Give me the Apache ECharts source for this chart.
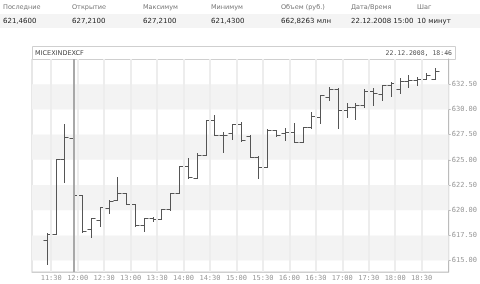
<!DOCTYPE html>
<html><head><meta charset="utf-8">
<script src="https://cdn.jsdelivr.net/npm/echarts@6/dist/echarts.min.js"></script>
<style>
html,body{margin:0;padding:0;background:#fff;}
#wrap{position:relative;width:480px;height:284px;overflow:hidden;}
#chart{position:absolute;left:0;top:0;width:480px;height:284px;}
.hrow{position:absolute;left:0;width:480px;font-family:"DejaVu Sans",Verdana,sans-serif;}
.hrow span{position:absolute;white-space:nowrap;}
#r1{top:1px;height:12px;font-size:6.5px;color:#777;}
#r2{top:14px;height:14px;font-size:7px;color:#222;background:#f4f4f4;}
#r1 span{top:2px;} #r2 span{top:3px;}
</style></head>
<body><div id="wrap"><div id="chart"></div>
<div class="hrow" id="r1"></div><div class="hrow" id="r2"></div></div>
<script>
// ---- data ----
const headerLabels = ['Последние','Открытие','Максимум','Минимум','Объем (руб.)','Дата/Время','Шаг'];
const headerValues = ['621,4600','627,2100','627,2100','621,4300','662,8263 млн','22.12.2008 15:00','10 минут'];
const chartTitle = 'MICEXINDEXCF';
const chartStamp = '22.12.2008, 18:46';
const times = ['11:20','11:30','11:40','11:50','12:00','12:10','12:20','12:30','12:40','12:50',
  '13:00','13:10','13:20','13:30','13:40','13:50','14:00','14:10','14:20','14:30',
  '14:40','14:50','15:00','15:10','15:20','15:30','15:40','15:50','16:00','16:10',
  '16:20','16:30','16:40','16:50','17:00','17:10','17:20','17:30','17:40','17:50',
  '18:00','18:10','18:20','18:30','18:40'];
const opens  = [617.0,617.6,625.05,627.21,621.5,618.1,619.03,620.2,621.0,621.74,
  620.6,618.5,619.2,619.1,620.09,621.68,624.38,623.22,625.5,628.95,
  627.46,627.63,628.55,627.39,625.31,624.26,627.96,627.63,627.79,626.8,
  628.22,629.28,631.26,631.99,629.94,630.27,630.44,631.83,631.53,632.42,
  632.0,632.85,632.92,632.98,632.98];
const highs  = [617.7,625.05,628.55,627.21,621.5,619.2,620.35,621.0,623.3,621.74,
  620.6,619.2,619.35,620.09,621.68,624.38,625.15,625.65,628.95,629.44,
  627.8,628.55,628.78,627.46,625.38,628.03,627.96,628.12,628.68,628.28,
  629.77,631.43,632.25,632.09,630.6,630.6,632.0,632.09,632.42,632.75,
  633.09,633.41,633.24,633.58,634.08];
const lows   = [614.7,617.6,622.83,621.43,617.87,617.37,618.43,619.7,621.0,620.6,
  618.43,617.97,618.96,619.1,620.0,621.68,623.17,623.17,625.5,627.46,
  625.8,627.03,626.9,625.31,623.17,624.26,627.36,626.96,626.8,626.8,
  628.2,628.62,630.93,628.12,629.28,629.0,630.27,630.44,630.93,631.3,
  631.66,632.25,632.42,632.98,632.98];
const closes = [617.6,625.05,627.3,621.46,617.97,619.2,620.29,620.9,621.74,620.62,
  618.53,619.2,619.1,620.09,621.68,624.38,623.29,625.5,628.95,627.46,
  627.5,628.55,626.96,625.31,624.26,627.96,627.46,627.79,626.8,628.22,
  629.34,631.43,632.0,629.94,630.27,630.44,631.83,631.6,632.42,632.6,
  632.85,632.92,633.02,633.4,633.81];
const xTickLabels = ['11:30','12:00','12:30','13:00','13:30','14:00','14:30','15:00',
  '15:30','16:00','16:30','17:00','17:30','18:00','18:30'];
const yTicks = [615, 617.5, 620, 622.5, 625, 627.5, 630, 632.5];
const cursorTime = '11:50';

// ---- header ----
const colX = [3,72,143,211,281,351,417];
const r1 = document.getElementById('r1'), r2 = document.getElementById('r2');
headerLabels.forEach((t,i)=>{const s=document.createElement('span');s.textContent=t;s.style.left=colX[i]+'px';r1.appendChild(s);});
headerValues.forEach((t,i)=>{const s=document.createElement('span');s.textContent=t;s.style.left=colX[i]+'px';r2.appendChild(s);});

// ---- chart ----
const toMin = t => { const p = t.split(':'); return (+p[0])*60 + (+p[1]); };
const fmt = m => { const h = Math.floor(m/60), mm = Math.round(m%60); return h + ':' + (mm<10?'0':'') + mm; };
const barData = times.map((t,i)=>[toMin(t)+5, opens[i], highs[i], lows[i], closes[i]]);
const xTickVals = xTickLabels.map(toMin);

const bands = [];
for (let i = 0; i + 1 < yTicks.length; i += 2) bands.push([{yAxis: yTicks[i]}, {yAxis: yTicks[i+1]}]);

const chart = echarts.init(document.getElementById('chart'), null, {renderer:'canvas'});
const lineCol = '#555';
chart.setOption({
  animation: false,
  grid: {left: 32, right: 25, top: 59, bottom: 12, show: true, borderColor: '#cfcfcf', borderWidth: 1, backgroundColor: '#fff'},
  graphic: [
    {type:'rect', left: 32, top: 46, shape:{width: 423, height: 13}, style:{fill:'#fff', stroke:'#cfcfcf', lineWidth:1}, z: 0},
    {type:'text', left: 35, top: 50, style:{text: chartTitle, font:'6.5px "DejaVu Sans"', fill:'#444'}},
    {type:'text', right: 28, top: 50, style:{text: chartStamp, font:'6.5px "DejaVu Sans Mono"', fill:'#555'}}
  ],
  xAxis: {
    type: 'value', min: 668.2, max: 1140.7,
    axisLine: {show: true, lineStyle: {color: '#cfcfcf'}},
    axisTick: {show: false, customValues: xTickVals},
    splitLine: {show: false},
    axisLabel: {customValues: xTickVals, formatter: v => fmt(v), color: '#999', fontSize: 7, fontFamily: 'DejaVu Sans Mono', margin: 3}
  },
  yAxis: {
    type: 'value', position: 'right', min: 613.87, max: 635.0, scale: true,
    axisLine: {show: true, lineStyle: {color: '#bbb'}},
    axisTick: {show: true, length: 2, inside: false, customValues: yTicks, lineStyle: {color: '#bbb'}},
    splitLine: {show: false},
    axisLabel: {customValues: yTicks, formatter: v => v.toFixed(2), color: '#999', fontSize: 7, fontFamily: 'DejaVu Sans Mono', margin: 3}
  },
  series: [
    {
      type: 'line', data: [], silent: true, z: 1,
      markArea: {silent: true, itemStyle: {color: '#f3f3f3'}, data: bands},
      markLine: {silent: true, symbol: 'none', label: {show: false},
        lineStyle: {color: '#ededed', width: 2, type: 'solid'},
        data: xTickVals.map(v => ({xAxis: v}))}
    },
    {
      type: 'line', data: [], silent: true, z: 2,
      markLine: {silent: true, symbol: 'none', label: {show: false},
        lineStyle: {color: '#a8a8a8', width: 2, type: 'solid'},
        data: [{xAxis: toMin(cursorTime)+5}]}
    },
    {
      type: 'custom', z: 3, data: barData,
      encode: {x: 0, y: [1,2,3,4]},
      renderItem: function (params, api) {
        const x = api.value(0);
        const o = api.coord([x, api.value(1)]);
        const h = api.coord([x, api.value(2)]);
        const l = api.coord([x, api.value(3)]);
        const c = api.coord([x, api.value(4)]);
        const px = Math.round(o[0]) + 0.5;
        const ry = v => Math.round(v) + 0.5;
        const st = {stroke: lineCol, lineWidth: 1};
        return {type: 'group', children: [
          {type: 'line', shape: {x1: px, y1: Math.round(h[1]), x2: px, y2: Math.round(l[1]) + 1}, style: st},
          {type: 'line', shape: {x1: px - 4, y1: ry(o[1]), x2: px, y2: ry(o[1])}, style: st},
          {type: 'line', shape: {x1: px, y1: ry(c[1]), x2: px + 4, y2: ry(c[1])}, style: st}
        ]};
      }
    }
  ]
});
</script></body></html>
